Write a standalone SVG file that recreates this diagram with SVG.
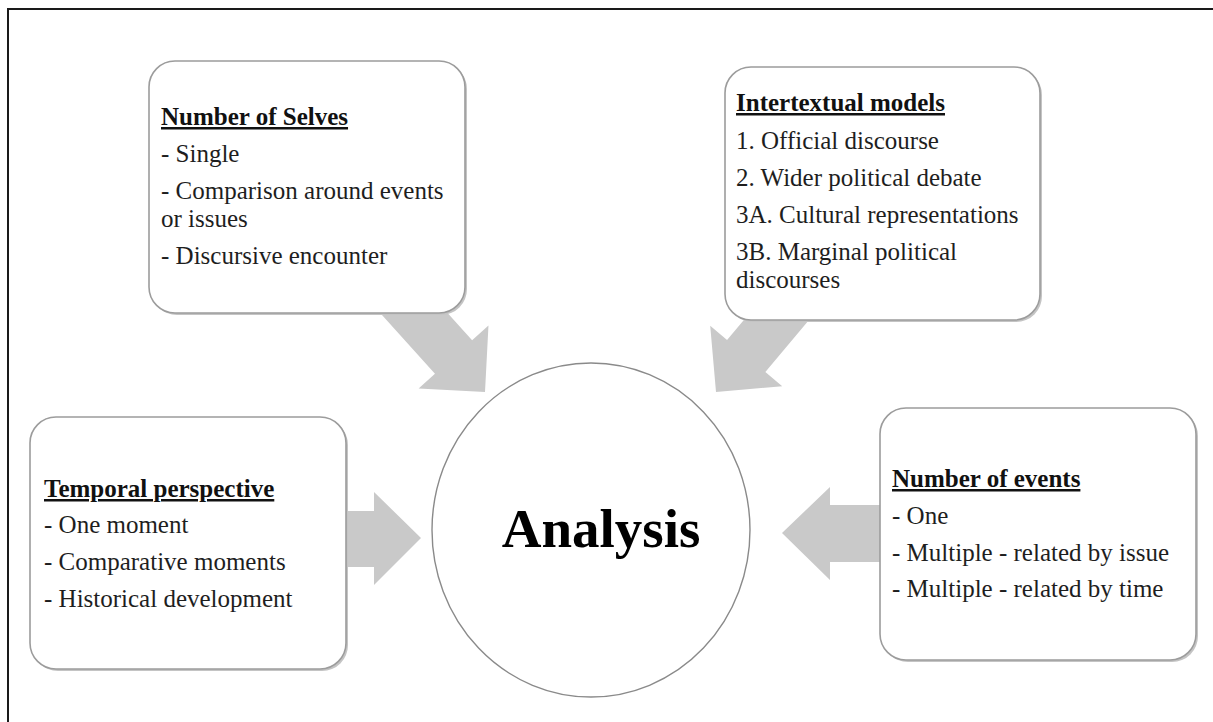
<svg xmlns="http://www.w3.org/2000/svg" width="1213" height="722" viewBox="0 0 1213 722">
<style>
.frame{fill:none;stroke:#1a1a1a;stroke-width:2}
.box{fill:#ffffff;stroke:#9c9c9c;stroke-width:1.6}
.shadow{fill:#c4c4c4}
.arrow{fill:#c9c9c9}
.hub{fill:#ffffff;stroke:#8a8a8a;stroke-width:1.4}
.t{font-family:"Liberation Serif","Times New Roman",serif;font-size:25px;fill:#1e1e1e}
.h{font-family:"Liberation Serif","Times New Roman",serif;font-size:25px;font-weight:bold;fill:#111;text-decoration:underline}
.big{font-family:"Liberation Serif","Times New Roman",serif;font-size:55px;font-weight:bold;fill:#000}
</style>
<defs>
<polygon id="blk" points="0,0 -47,-47 -47,-25 -140,-25 -140,25 -47,25 -47,47"/>
</defs>
<rect x="0" y="0" width="1213" height="722" fill="#ffffff"/>
<rect class="frame" x="8" y="9" width="1230" height="740"/>

<g id="connectors">
<use href="#blk" class="arrow" transform="translate(485,392) rotate(48)"/>
<use href="#blk" class="arrow" transform="translate(716,392) rotate(130)"/>
<polygon class="arrow" points="340,511 374,511 374,492 421,538 374,585 374,567 340,567"/>
<polygon class="arrow" points="890,505 830,505 830,487 782,533 830,580 830,562 890,562"/>
</g>

<g id="analysis">
<ellipse class="hub" cx="591" cy="530" rx="159" ry="167"/>
<text class="big" x="601" y="547" text-anchor="middle">Analysis</text>
</g>

<g id="number-of-selves">
<rect class="shadow" x="151" y="63" width="316" height="252" rx="26"/>
<rect class="box" x="149" y="61" width="316" height="252" rx="26"/>
<text class="h" x="161" y="125">Number of Selves</text>
<text class="t" x="161" y="162">- Single</text>
<text class="t" x="161" y="199">- Comparison around events</text>
<text class="t" x="161" y="227">or issues</text>
<text class="t" x="161" y="264">- Discursive encounter</text>
</g>

<g id="intertextual-models">
<rect class="shadow" x="727" y="69" width="315" height="253" rx="26"/>
<rect class="box" x="725" y="67" width="315" height="253" rx="26"/>
<text class="h" x="736" y="111">Intertextual models</text>
<text class="t" x="736" y="149">1. Official discourse</text>
<text class="t" x="736" y="186">2. Wider political debate</text>
<text class="t" x="736" y="223">3A. Cultural representations</text>
<text class="t" x="736" y="260">3B. Marginal political</text>
<text class="t" x="736" y="288">discourses</text>
</g>

<g id="temporal-perspective">
<rect class="shadow" x="32" y="419" width="316" height="252" rx="26"/>
<rect class="box" x="30" y="417" width="316" height="252" rx="26"/>
<text class="h" x="44" y="497">Temporal perspective</text>
<text class="t" x="44" y="533">- One moment</text>
<text class="t" x="44" y="570">- Comparative moments</text>
<text class="t" x="44" y="607">- Historical development</text>
</g>

<g id="number-of-events">
<rect class="shadow" x="882" y="410" width="316" height="252" rx="26"/>
<rect class="box" x="880" y="408" width="316" height="252" rx="26"/>
<text class="h" x="892" y="487">Number of events</text>
<text class="t" x="892" y="524">- One</text>
<text class="t" x="892" y="561">- Multiple - related by issue</text>
<text class="t" x="892" y="597">- Multiple - related by time</text>
</g>
</svg>
